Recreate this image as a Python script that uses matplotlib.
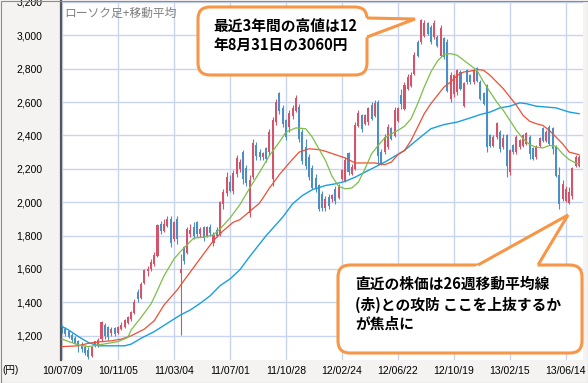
import numpy as np
import matplotlib
matplotlib.use("Agg")
import matplotlib.pyplot as plt
from matplotlib.patches import FancyBboxPatch, Polygon, Rectangle

plt.rcParams['font.family'] = ['Noto Sans CJK JP', 'DejaVu Sans']

# ── 週足データ（10/07/09 から 1 本ずつ） ─────────────────────
opens = [1250, 1240, 1225, 1200, 1185, 1165, 1150, 1130, 1110, 1080,
         1165, 1140, 1180, 1260, 1250, 1220, 1245, 1220, 1245, 1255,
         1280, 1300, 1340, 1460, 1430, 1520, 1590, 1600, 1630, 1680,
         1870, 1830, 1860, 1900, 1780, 1900, 1580, 1730, 1700, 1810,
         1850, 1880, 1810, 1850, 1800, 1850, 1760, 1830, 1810, 1990,
         2060, 2120, 2070, 2170, 2200, 2300, 2200, 1940, 2150, 2340,
         2300, 2270, 2320, 2300, 2140, 2480, 2650, 2560, 2490, 2450,
         2520, 2550, 2570, 2420, 2330, 2270, 2200, 2140, 2100, 2050,
         1970, 2030, 2020, 2080, 2030, 2140, 2130, 2290, 2170, 2200,
         2460, 2520, 2470, 2480, 2580, 2520, 2600, 2300, 2300, 2330,
         2440, 2400, 2490, 2640, 2560, 2680, 2700, 2770, 2960, 2960,
         3000, 3070, 3050, 2990, 2990, 2880, 2980, 2960, 2620, 2650,
         2660, 2780, 2580, 2790, 2760, 2720, 2800, 2720, 2650, 2700,
         2400, 2340, 2390, 2420, 2330, 2400, 2180, 2340, 2300, 2330,
         2340, 2350, 2390, 2320, 2270, 2340, 2440, 2370, 2450, 2440,
         2330, 2160, 2020, 2010, 2000, 2040, 2220, 2220]
highs = [1265, 1250, 1235, 1215, 1200, 1175, 1160, 1145, 1130, 1140,
         1170, 1185, 1290, 1275, 1260, 1250, 1255, 1260, 1280, 1300,
         1320, 1350, 1420, 1480, 1520, 1600, 1620, 1660, 1700, 1870,
         1890, 1900, 1920, 1920, 1890, 1920, 1690, 1740, 1850, 1870,
         1880, 1890, 1850, 1860, 1860, 1870, 1820, 1850, 2010, 2080,
         2180, 2160, 2190, 2280, 2260, 2310, 2220, 2160, 2380, 2360,
         2320, 2300, 2330, 2440, 2510, 2620, 2660, 2580, 2500, 2550,
         2580, 2640, 2590, 2440, 2380, 2290, 2220, 2170, 2110, 2070,
         2040, 2050, 2050, 2100, 2110, 2200, 2270, 2300, 2230, 2480,
         2550, 2530, 2530, 2570, 2600, 2610, 2610, 2320, 2410, 2470,
         2450, 2570, 2570, 2680, 2720, 2770, 2780, 2900, 2970, 3100,
         3090, 3080, 3060, 3090, 3000, 3060, 2990, 2980, 2780, 2770,
         2800, 2790, 2720, 2800, 2770, 2800, 2810, 2730, 2660, 2710,
         2410, 2400, 2480, 2430, 2410, 2410, 2320, 2350, 2400, 2380,
         2410, 2420, 2400, 2330, 2340, 2390, 2450, 2430, 2460, 2450,
         2340, 2210, 2130, 2100, 2090, 2210, 2280, 2280]
lows = [1215, 1200, 1185, 1160, 1150, 1100, 1100, 1085, 1060, 1070,
        1130, 1130, 1170, 1180, 1175, 1200, 1200, 1210, 1235, 1245,
        1270, 1290, 1330, 1400, 1420, 1510, 1560, 1590, 1620, 1670,
        1810, 1820, 1850, 1730, 1770, 1750, 1205, 1630, 1690, 1790,
        1780, 1790, 1790, 1770, 1790, 1800, 1740, 1790, 1800, 1960,
        2040, 2060, 2050, 2150, 2180, 2110, 2100, 1910, 2140, 2250,
        2250, 2250, 2240, 2280, 2100, 2460, 2530, 2450, 2370, 2420,
        2500, 2540, 2360, 2230, 2200, 2130, 2080, 2060, 1950, 1950,
        1950, 1960, 2000, 1990, 2020, 2130, 2120, 2160, 2160, 2190,
        2450, 2420, 2460, 2460, 2490, 2510, 2220, 2220, 2290, 2320,
        2370, 2390, 2480, 2560, 2550, 2670, 2690, 2760, 2870, 2950,
        2990, 3000, 2950, 2980, 2930, 2870, 2860, 2660, 2600, 2630,
        2640, 2670, 2570, 2710, 2710, 2710, 2720, 2610, 2580, 2300,
        2330, 2330, 2380, 2300, 2320, 2150, 2160, 2290, 2290, 2320,
        2330, 2340, 2260, 2250, 2260, 2330, 2360, 2360, 2340, 2290,
        2150, 1960, 2010, 2000, 1990, 2020, 2210, 2210]
closes = [1230, 1215, 1195, 1175, 1160, 1140, 1120, 1100, 1075, 1130,
          1140, 1175, 1280, 1200, 1195, 1240, 1215, 1250, 1265, 1290,
          1310, 1340, 1400, 1420, 1510, 1590, 1600, 1640, 1680, 1860,
          1830, 1870, 1900, 1760, 1880, 1780, 1600, 1650, 1840, 1830,
          1800, 1810, 1840, 1790, 1850, 1820, 1800, 1800, 2000, 2060,
          2150, 2070, 2170, 2260, 2240, 2140, 2120, 2130, 2350, 2280,
          2270, 2290, 2260, 2420, 2490, 2600, 2550, 2470, 2390, 2530,
          2560, 2620, 2380, 2250, 2220, 2150, 2090, 2080, 1960, 1970,
          2020, 1980, 2040, 2010, 2090, 2190, 2250, 2180, 2210, 2460,
          2530, 2440, 2520, 2560, 2500, 2590, 2280, 2230, 2390, 2450,
          2380, 2550, 2560, 2590, 2700, 2750, 2760, 2880, 2880, 3090,
          3070, 3010, 2960, 3070, 2940, 3040, 2870, 2670, 2760, 2760,
          2790, 2680, 2710, 2720, 2720, 2790, 2730, 2620, 2590, 2330,
          2340, 2390, 2470, 2320, 2380, 2220, 2310, 2300, 2390, 2370,
          2400, 2410, 2290, 2260, 2330, 2380, 2370, 2420, 2350, 2320,
          2160, 1990, 2110, 2080, 2060, 2200, 2270, 2270]

# ── 移動平均（13週・26週・52週）、週番号ごとの読み取り値 ──────
ma13_wk = [0, 5, 8, 11, 14, 17, 20, 21, 24, 27, 28, 31, 34, 36, 37, 40, 43, 46,
           48, 51, 54, 57, 60, 63, 66, 68, 71, 74, 76, 78, 80, 82, 84, 86, 88,
           90, 92, 94, 96, 98, 100, 102, 104, 106, 108, 110, 112, 114, 116,
           118, 120, 122, 124, 126, 128, 130, 132, 134, 136, 138, 140, 142,
           144, 146, 148, 150, 152, 154, 156, 157]
ma13 = [1180, 1145, 1135, 1145, 1155, 1165, 1190, 1235, 1310, 1390, 1430, 1560,
        1660, 1705, 1725, 1785, 1790, 1805, 1840, 1905, 1985, 2085, 2180, 2280,
        2360, 2420, 2445, 2440, 2390, 2320, 2250, 2155, 2095, 2080, 2085, 2120,
        2200, 2290, 2340, 2385, 2410, 2430, 2455, 2500, 2590, 2690, 2780, 2845,
        2885, 2890, 2880, 2850, 2820, 2790, 2720, 2660, 2600, 2550, 2490, 2430,
        2380, 2345, 2330, 2325, 2340, 2335, 2290, 2255, 2235, 2230]

ma26_wk = [0, 5, 8, 12, 15, 18, 21, 25, 28, 31, 35, 37, 40, 43, 46, 49, 52, 54,
           57, 60, 63, 66, 69, 72, 75, 78, 80, 83, 86, 89, 92, 95, 98, 100, 102,
           104, 106, 108, 110, 112, 114, 116, 118, 120, 122, 124, 126, 128, 130,
           132, 134, 136, 138, 140, 142, 144, 146, 148, 150, 152, 154, 156, 157]
ma26 = [1135, 1140, 1155, 1165, 1170, 1180, 1200, 1240, 1290, 1385, 1475, 1530,
        1610, 1690, 1770, 1830, 1880, 1895, 1945, 1995, 2085, 2165, 2235, 2300,
        2320, 2315, 2305, 2285, 2265, 2235, 2235, 2235, 2225, 2240, 2285, 2310,
        2370, 2450, 2530, 2590, 2640, 2690, 2720, 2760, 2780, 2785, 2795, 2790,
        2760, 2720, 2680, 2630, 2580, 2520, 2485, 2470, 2460, 2430, 2390, 2350,
        2300, 2290, 2285]

ma52_wk = [0, 2, 5, 8, 11, 15, 19, 21, 24, 28, 32, 36, 39, 42, 45, 48, 51, 54,
           57, 62, 67, 70, 73, 76, 80, 83, 86, 89, 92, 95, 98, 101, 104, 107,
           112, 116, 120, 124, 127, 130, 133, 136, 139, 141, 144, 147, 150, 154,
           157]
ma52 = [1255, 1235, 1195, 1160, 1140, 1140, 1140, 1150, 1185, 1225, 1275, 1325,
        1355, 1395, 1440, 1500, 1540, 1595, 1675, 1800, 1910, 1990, 2040, 2075,
        2100, 2110, 2125, 2150, 2180, 2210, 2240, 2275, 2310, 2360, 2440, 2465,
        2480, 2505, 2525, 2540, 2565, 2575, 2595, 2590, 2575, 2570, 2565, 2540,
        2530]

tick_weeks = [0, 17, 34, 51, 68, 85, 102, 119, 136, 153]
tick_labels = ['10/07/09', '10/11/05', '11/03/04', '11/07/01', '11/10/28',
               '12/02/24', '12/06/22', '12/10/19', '13/02/15', '13/06/14']
y_ticks = [1200, 1400, 1600, 1800, 2000, 2200, 2400, 2600, 2800, 3000, 3200]

# ── 描画 ───────────────────────────────────────────────────
W, H = 588, 383
fig = plt.figure(figsize=(W / 100, H / 100), dpi=100, facecolor='#f4f3f1')
ax = fig.add_axes([61 / W, 1 - 360 / H, (583 - 61) / W, 359 / H])
ax.set_facecolor('white')

weeks = np.arange(len(opens))
o = np.array(opens)
c = np.array(closes)
up = c >= o
red_c = '#d4546b'
blue_c = '#4d8ec5'
colors = np.where(up, red_c, blue_c)

ax.vlines(weeks, lows, highs, colors=colors, linewidth=0.8, zorder=2)
ax.bar(weeks, np.abs(c - o) + 4, bottom=np.minimum(o, c) - 2, width=0.62,
       color=colors, linewidth=0, zorder=2)

ax.plot(ma52_wk, ma52, color='#1b9fde', lw=1.0, zorder=3)
ax.plot(ma26_wk, ma26, color='#ee4e32', lw=0.9, zorder=3)
ax.plot(ma13_wk, ma13, color='#7dbf45', lw=0.9, zorder=3)

ax.set_xlim(-0.3, 158.2)
ax.set_ylim(1055, 3205)
ax.set_xticks(tick_weeks)
ax.set_xticklabels(tick_labels, fontfamily='Liberation Sans', fontsize=7.5)
ax.set_yticks(y_ticks)
ax.set_yticklabels([f'{v:,}' for v in y_ticks], fontfamily='Liberation Sans',
                   fontsize=7.5)
ax.tick_params(axis='both', length=0)
ax.tick_params(axis='y', pad=13.5)
ax.tick_params(axis='x', pad=4)
ax.grid(True, color='#c9d5ee', linewidth=1.0, zorder=0)
ax.set_axisbelow(True)
for side in ['top', 'right', 'bottom']:
    ax.spines[side].set_visible(False)
ax.spines['left'].set_color('#555555')
ax.spines['left'].set_linewidth(1.6)

ax.text(0.006, 0.985, 'ローソク足+移動平均', transform=ax.transAxes,
        fontsize=8.5, color='#808080', ha='left', va='top')

fig.text(2 / W, 1 - 370 / H, '(円)', fontsize=7, ha='left', va='center',
         family=['Liberation Sans', 'Noto Sans CJK JP'])

# ── 吹き出し（ピクセル座標のオーバーレイ） ────────────────────
ov = fig.add_axes([0, 0, 1, 1], zorder=10)
ov.set_xlim(0, W)
ov.set_ylim(H, 0)
ov.axis('off')
ov.patch.set_alpha(0)

orange = '#f79646'
lw_c = 2.2


def callout(x, y, w, h, fill_tri, edge_pts):
    box = FancyBboxPatch((x, y), w, h, boxstyle='round,pad=0,rounding_size=12',
                         fc='white', ec=orange, lw=lw_c, zorder=1)
    ov.add_patch(box)
    ov.add_patch(Polygon(fill_tri, closed=True, fc='white', ec='none', zorder=2))
    ex, ey = zip(*edge_pts)
    ov.plot(ex, ey, color=orange, lw=lw_c, solid_joinstyle='miter',
            solid_capstyle='butt', zorder=3)


callout(198, 7, 169, 68,
        [(363, 17.9), (415, 19), (363, 38.5)],
        [(367, 18), (415, 19), (367, 37)])
callout(338, 265, 244, 88,
        [(470.8, 269), (568, 215), (535.6, 269)],
        [(478, 265), (568, 215), (538, 265)])

txt_kw = dict(fontsize=10.6, fontweight='bold', color='black', ha='left',
              va='center', zorder=4)
ov.text(213, 26, '最近3年間の高値は12', **txt_kw)
ov.text(213, 45, '年8月31日の3060円', **txt_kw)
ov.text(355, 284, '直近の株価は26週移動平均線', **txt_kw)
ov.text(355, 305, '(赤)との攻防 ここを上抜するか', **txt_kw)
ov.text(355, 324, 'が焦点に', **txt_kw)

# 外枠
ov.add_patch(Rectangle((0.5, 0.5), W - 1, H - 1, fc='none', ec='#8a8a8a',
                       lw=0.8, zorder=5))

fig.savefig('out.png', dpi=100, facecolor=fig.get_facecolor())
